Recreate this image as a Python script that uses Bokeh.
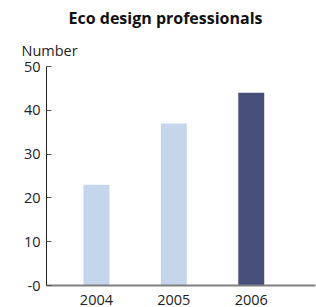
from bokeh.plotting import figure
from bokeh.models import Title, FixedTicker, Range1d
from bokeh.embed import file_html
from bokeh.resources import INLINE

years = [2004, 2005, 2006]
values = [23, 37, 44]
colors = ["#c5d5ec", "#c5d5ec", "#46507b"]
y_ticks = [0, 10, 20, 30, 40, 50]
y_tick_labels = {0: "-0", 10: "10", 20: "20", 30: "30", 40: "40", 50: "50"}

FONT = "Open Sans"

p = figure(width=316, height=307, output_backend="svg", toolbar_location=None,
           x_range=Range1d(2003.355, 2006.83), y_range=Range1d(0, 50),
           min_border_left=46, min_border_right=1, min_border_bottom=21, min_border_top=0)
p.title.text = "Eco design professionals"
p.title.align = "left"
p.title.offset = 22
p.title.text_font = FONT
p.title.text_font_style = "bold"
p.title.text_font_size = "16px"
p.title.text_color = "#111111"
p.title.standoff = 8
p.add_layout(Title(text="Number", align="left", offset=-25,
                   text_font=FONT, text_font_style="normal", text_font_size="14.5px",
                   text_color="#222222", standoff=13), "above")

p.vbar(x=years, top=values, width=0.335, color=colors, line_color=None)

p.xgrid.visible = False
p.ygrid.visible = False
p.outline_line_color = None
p.background_fill_color = "white"
p.border_fill_color = "white"

xa = p.xaxis[0]
xa.ticker = FixedTicker(ticks=years)
xa.major_tick_line_color = None
xa.minor_tick_line_color = None
xa.axis_line_color = "#808080"
xa.axis_line_width = 2
xa.major_label_text_font = FONT
xa.major_label_text_font_size = "14.5px"
xa.major_label_text_color = "#222222"
xa.major_label_standoff = 3

ya = p.yaxis[0]
ya.ticker = FixedTicker(ticks=y_ticks)
ya.major_label_overrides = y_tick_labels
ya.major_tick_in = 5
ya.major_tick_out = 0
ya.minor_tick_line_color = None
ya.axis_line_color = "#222222"
ya.major_tick_line_color = "#555555"
ya.major_label_text_font = FONT
ya.major_label_text_font_size = "14.5px"
ya.major_label_text_color = "#222222"
ya.major_label_standoff = 6

open("out.html", "w").write(file_html(p, INLINE))
